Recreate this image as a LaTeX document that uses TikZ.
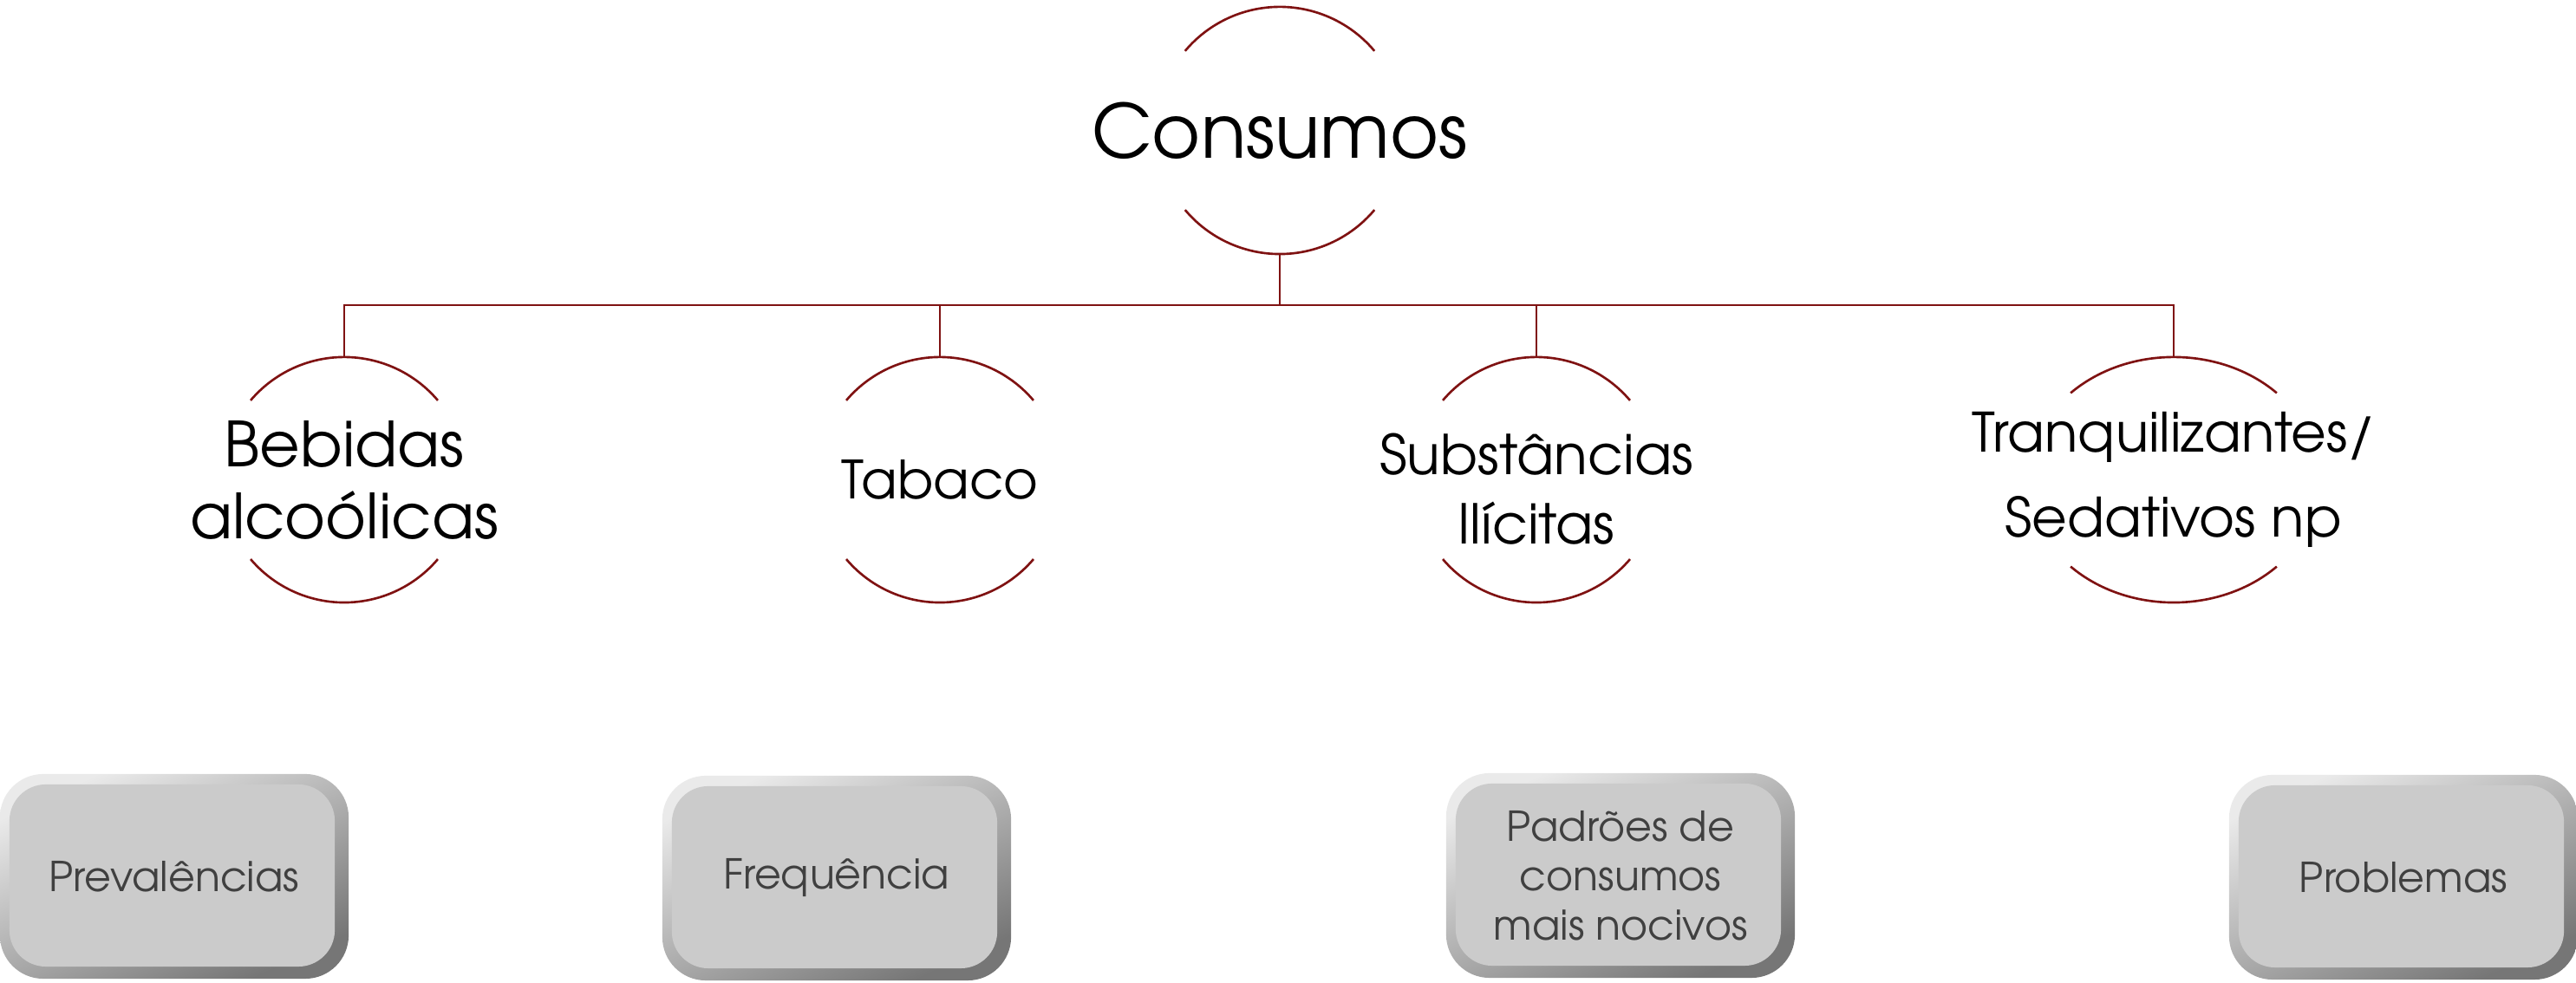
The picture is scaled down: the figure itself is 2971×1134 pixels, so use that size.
\documentclass[tikz,border=0pt]{standalone}
\usepackage{fontspec}
\setmainfont{TeX Gyre Adventor}
\usetikzlibrary{positioning,shapes.geometric,calc}

\definecolor{linkred}{HTML}{7F1212}
\definecolor{panelgray}{HTML}{CBCBCB}
\definecolor{rimlight}{HTML}{EAEAEA}
\definecolor{rimdark}{HTML}{767676}
\definecolor{paneltext}{HTML}{404040}

\tikzset{
  link/.style={draw=linkred, line width=0.75pt},
  topic/.style={ellipse, inner sep=0pt, minimum width=2.83cm, minimum height=2.83cm, align=center},
  panel/.style={rounded corners=0.5cm, minimum width=4.02cm, minimum height=2.36cm,
    inner sep=0pt, align=center, text=paneltext, font=\fontsize{13.5}{16.2}\selectfont,
    top color=rimlight, bottom color=rimdark, shading angle=25,
    path picture={\fill[panelgray, rounded corners=0.42cm]
      ([shift={(0.11cm,-0.12cm)}]path picture bounding box.north west) rectangle
      ([shift={(-0.16cm,0.14cm)}]path picture bounding box.south east);}}
}

% two caps round a topic: node, angle, x radius, y radius
\newcommand{\caparcs}[4]{%
  \draw[link] ($(#1.center)+(#2:#3 and #4)$) arc[start angle=#2, end angle=180-#2, x radius=#3, y radius=#4];
  \draw[link] ($(#1.center)+(180+#2:#3 and #4)$) arc[start angle=180+#2, end angle=360-#2, x radius=#3, y radius=#4];
}

\begin{document}
\begin{tikzpicture}[x=0.01cm, y=0.01cm]
  \useasboundingbox (0,0) rectangle (2971,1134);

  \node[topic, minimum width=2.85cm, minimum height=2.85cm,
        font=\fontsize{24.4}{30}\selectfont] (cons) at (1476,983.5) {Consumos};

  \node[topic, font=\fontsize{20.4}{23.6}\selectfont] (beb) at (397,580.5) {Bebidas\\alcoólicas};
  \node[topic, font=\fontsize{17.3}{21}\selectfont]   (tab) at (1084,580.5) {Tabaco};
  \node[topic] (sub) at (1772,580.5) {};
  \node[align=center, font=\fontsize{18}{22.6}\selectfont]
        (sublbl) at ([yshift=-0.105cm]sub.center) {Substâncias\\Ilícitas};
  \node[topic, minimum width=3.36cm,
        font=\fontsize{17.8}{27.9}\selectfont]        (tra) at (2507,580.5) {Tranquilizantes/\\Sedativos np};

  \caparcs{cons}{40}{1.425cm}{1.425cm}
  \caparcs{beb}{40.3}{1.415cm}{1.415cm}
  \caparcs{tab}{40.3}{1.415cm}{1.415cm}
  \caparcs{sub}{40.3}{1.415cm}{1.415cm}
  \caparcs{tra}{45}{1.68cm}{1.415cm}

  % hierarchy lines
  \coordinate (bus) at (1476,782);
  \draw[link] (cons.south) -- (bus);
  \foreach \n in {beb,tab,sub,tra}
    \draw[link] (bus) -| (\n.north);

  % dimension panels
  \node[panel] (prev) at (201,123)  {Prevalências};
  \node[panel] (freq) at (965,121)  {Frequência};
  \node[panel] (padr) at (1869,124) {Padrões de\\consumos\\mais nocivos};
  \node[panel] (prob) at (2772,122) {Problemas};
\end{tikzpicture}
\end{document}
